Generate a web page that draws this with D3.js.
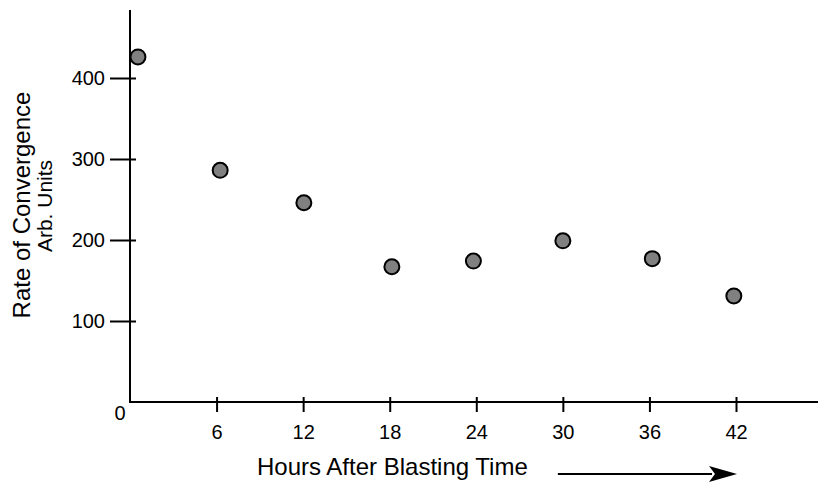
<!DOCTYPE html>
<html>
<head>
<meta charset="utf-8">
<script src="https://cdn.jsdelivr.net/npm/d3@7"></script>
<style>
  html, body { margin: 0; padding: 0; background: #ffffff; }
  svg { display: block; }
  text { font-family: "Liberation Sans", Arial, Helvetica, sans-serif; fill: #000; }
</style>
</head>
<body>
<svg id="chart" width="818" height="484"></svg>
<script>
// ---- data ----
const hours = [0.55, 6.25, 12.05, 18.15, 23.8, 30.0, 36.2, 41.85];
const rates = [426, 286, 246, 167, 174, 199, 177, 131];
const xTicks = [6, 12, 18, 24, 30, 36, 42];
const yTicks = [100, 200, 300, 400];
const xTitle = "Hours After Blasting Time";
const yTitleLines = ["Rate of Convergence", "Arb. Units"];
const originLabel = "0";

// ---- layout ----
const W = 818, H = 484;
const x0 = 130, y0 = 402;
const svg = d3.select("#chart");

const x = d3.scaleLinear().domain([0, 42]).range([x0, 736]);
const y = d3.scaleLinear().domain([0, 400]).range([y0, 78]);

// x axis
const xAxis = d3.axisBottom(x).tickValues(xTicks).tickSize(0).tickFormat(d3.format("d"));
const gx = svg.append("g").attr("transform", `translate(0,${y0})`).call(xAxis);
gx.select(".domain").remove();
gx.selectAll(".tick line").attr("y1", -5).attr("y2", 10).attr("stroke", "#000").attr("stroke-width", 2);
gx.selectAll(".tick text").attr("y", 37).attr("dy", 0).attr("font-size", 20).attr("fill", "#000")
  .attr("font-family", '"Liberation Sans", Arial, sans-serif');
svg.append("line").attr("x1", x0 - 1).attr("x2", W).attr("y1", y0).attr("y2", y0)
  .attr("stroke", "#000").attr("stroke-width", 2);

// y axis
const yAxis = d3.axisLeft(y).tickValues(yTicks).tickSize(0).tickFormat(d3.format("d"));
const gy = svg.append("g").attr("transform", `translate(${x0},0)`).call(yAxis);
gy.select(".domain").remove();
gy.selectAll(".tick line").attr("x1", -20).attr("x2", 6).attr("stroke", "#000").attr("stroke-width", 2);
gy.selectAll(".tick text").attr("x", -25).attr("dy", "0.34em").attr("font-size", 20).attr("fill", "#000")
  .attr("font-family", '"Liberation Sans", Arial, sans-serif');
svg.append("line").attr("x1", x0).attr("x2", x0).attr("y1", 10).attr("y2", y0 + 1)
  .attr("stroke", "#000").attr("stroke-width", 2);

// origin label
svg.append("text").attr("x", x0 - 10).attr("y", y0 + 18).attr("text-anchor", "middle")
  .attr("font-size", 20).text(originLabel);

// points
svg.append("g").selectAll("circle").data(hours.map((h, i) => [h, rates[i]])).join("circle")
  .attr("cx", d => x(d[0])).attr("cy", d => y(d[1])).attr("r", 7.5)
  .attr("fill", "#808080").attr("stroke", "#000").attr("stroke-width", 2);

// x title + arrow
svg.append("text").attr("x", 257).attr("y", 475).attr("font-size", 24).text(xTitle);
svg.append("line").attr("x1", x(30) - 5).attr("x2", x(42) - 24).attr("y1", 474).attr("y2", 474)
  .attr("stroke", "#000").attr("stroke-width", 2);
svg.append("path")
  .attr("d", `M${x(42) + 1},474 L${x(42) - 27},466 L${x(42) - 21},474 L${x(42) - 27},482 Z`)
  .attr("fill", "#000");

// y title (two rotated lines)
svg.append("text").attr("transform", "translate(30,205) rotate(-90)").attr("text-anchor", "middle")
  .attr("font-size", 24).text(yTitleLines[0]);
svg.append("text").attr("transform", "translate(52,206) rotate(-90)").attr("text-anchor", "middle")
  .attr("font-size", 21).text(yTitleLines[1]);
</script>
</body>
</html>
